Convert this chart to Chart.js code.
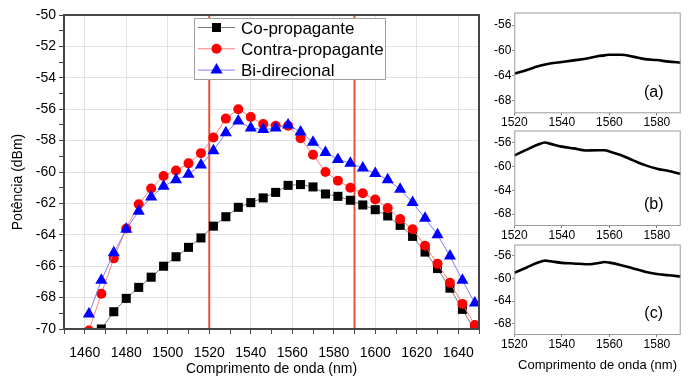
<!DOCTYPE html>
<html>
<head>
<meta charset="utf-8">
<script src="https://cdn.jsdelivr.net/npm/chart.js@4.4.0/dist/chart.umd.min.js"></script>
<style>
  body { margin: 0; background: #fff; width: 695px; height: 376px; overflow: hidden; position: relative; }
  canvas { position: absolute; }
</style>
</head>
<body>
<canvas id="main" width="490" height="376" style="left:0px;top:0px"></canvas>
<canvas id="pa" width="205" height="130" style="left:490px;top:0px"></canvas>
<canvas id="pb" width="205" height="125" style="left:490px;top:118px"></canvas>
<canvas id="pc" width="205" height="144" style="left:490px;top:232px"></canvas>
<script>
// main plot: wavelength (nm) vs power (dBm)
const wavelengths = [1462, 1468, 1474, 1480, 1486, 1492, 1498, 1504, 1510, 1516, 1522, 1528, 1534, 1540, 1546, 1552,
                     1558, 1564, 1570, 1576, 1582, 1588, 1594, 1600, 1606, 1612, 1618, 1624, 1630, 1636, 1642, 1648];
const coPropagante = [-70.3, -70.0, -68.9, -68.05, -67.35, -66.7, -66.0, -65.4, -64.8, -64.2, -63.45, -62.85, -62.25, -61.95, -61.65, -61.3,
                      -60.85, -60.8, -60.95, -61.4, -61.55, -61.8, -62.1, -62.4, -62.8, -63.4, -64.1, -65.1, -66.15, -67.4, -68.75, -70.1];
const contraPropagante = [-70.1, -67.75, -65.5, -63.6, -62.05, -61.05, -60.25, -59.9, -59.45, -58.8, -57.8, -56.6, -56.0, -56.5, -56.95, -57.05,
                          -57.05, -57.85, -58.9, -60.0, -60.55, -61.0, -61.35, -61.75, -62.3, -63.0, -63.65, -64.7, -65.85, -67.05, -68.4, -69.75];
const biDirecional = [-69.05, -66.9, -65.15, -63.65, -62.5, -61.6, -60.9, -60.5, -60.15, -59.55, -58.65, -57.5, -56.75, -57.2, -57.3, -57.2,
                      -57.0, -57.45, -58.1, -58.75, -59.2, -59.45, -59.75, -60.1, -60.5, -61.1, -61.95, -62.95, -64.0, -65.35, -66.9, -68.35];
const seriesNames = ["Co-propagante", "Contra-propagante", "Bi-direcional"];
const cutLines = [1520, 1590];

// small panels (a), (b), (c)
const specWl = [1520, 1525, 1530, 1533, 1535, 1540, 1545, 1550, 1555, 1558, 1560, 1565, 1570, 1575, 1580, 1585, 1590];
const specA = [-63.7, -63.15, -62.55, -62.25, -62.1, -61.85, -61.6, -61.35, -60.95, -60.8, -60.7, -60.7, -61.0, -61.4, -61.55, -61.8, -61.95];
const specB = [-58.2, -57.25, -56.35, -56.0, -56.2, -56.7, -57.0, -57.35, -57.3, -57.3, -57.5, -58.15, -59.0, -59.8, -60.4, -60.8, -61.3];
const specC = [-59.0, -58.1, -57.2, -56.85, -56.95, -57.25, -57.35, -57.5, -57.3, -57.1, -57.2, -57.65, -58.25, -58.8, -59.2, -59.45, -59.65];
const panelTags = ["(a)", "(b)", "(c)"];

const FONT = '"Liberation Sans", Arial, sans-serif';
Chart.defaults.font.family = FONT;
Chart.defaults.color = "#000";

const toPoints = (xs, ys) => xs.map((x, i) => ({ x: x, y: ys[i] }));

// frame + red marker lines + legend + y title
const mainDecor = {
  id: "mainDecor",
  beforeDatasetsDraw(chart) {
    const { ctx, chartArea: a, scales: { x } } = chart;
    ctx.save();
    ctx.strokeStyle = "#e4553b";
    ctx.lineWidth = 2;
    cutLines.forEach(v => {
      const px = x.getPixelForValue(v);
      ctx.beginPath();
      ctx.moveTo(px, a.top);
      ctx.lineTo(px, a.bottom);
      ctx.stroke();
    });
    ctx.restore();
  },
  afterDraw(chart) {
    const { ctx, chartArea: a } = chart;
    ctx.save();
    ctx.strokeStyle = "#454545";
    ctx.lineWidth = 2;
    ctx.strokeRect(a.left, a.top, a.right - a.left, a.bottom - a.top);

    // legend
    const lx = 194.5, ly = 18.5;
    ctx.fillStyle = "#fff";
    ctx.fillRect(lx, ly, 191, 61);
    ctx.strokeStyle = "#a0a0a0";
    ctx.lineWidth = 1;
    ctx.strokeRect(lx, ly, 191, 61);
    chart.data.datasets.forEach((ds, i) => {
      const cy = 27.5 + i * 21.3;
      ctx.strokeStyle = ds.borderColor;
      ctx.lineWidth = 1;
      ctx.beginPath();
      ctx.moveTo(198, cy);
      ctx.lineTo(235, cy);
      ctx.stroke();
      ctx.fillStyle = ds.pointBackgroundColor;
      Chart.helpers.drawPoint(ctx, { pointStyle: ds.pointStyle, radius: ds.pointRadius, rotation: 0, borderWidth: 0 }, 216.5, cy);
      ctx.fillStyle = "#000";
      ctx.font = "17px " + FONT;
      ctx.textAlign = "left";
      ctx.textBaseline = "middle";
      ctx.fillText(ds.label, 241, cy + 1.5);
    });

    // y axis title (sits a bit below the axis centre in the original)
    ctx.translate(18.5, (a.top + a.bottom) / 2 + 10);
    ctx.rotate(-Math.PI / 2);
    ctx.font = "14px " + FONT;
    ctx.textAlign = "center";
    ctx.textBaseline = "middle";
    ctx.fillStyle = "#000";
    ctx.fillText("Potência (dBm)", 0, 0);
    ctx.restore();
  }
};

const mainChart = new Chart(document.getElementById("main"), {
  type: "line",
  data: {
    datasets: [
      {
        label: seriesNames[0], data: toPoints(wavelengths, coPropagante), order: 3,
        borderColor: "#7a7a7a", borderWidth: 1,
        pointStyle: "rect", pointRadius: 6.4, pointHoverRadius: 6.4,
        pointBackgroundColor: "#000", pointBorderWidth: 0
      },
      {
        label: seriesNames[1], data: toPoints(wavelengths, contraPropagante), order: 2,
        borderColor: "#ff7d7d", borderWidth: 1,
        pointStyle: "circle", pointRadius: 5, pointHoverRadius: 5,
        pointBackgroundColor: "#ff0000", pointBorderWidth: 0
      },
      {
        label: seriesNames[2], data: toPoints(wavelengths, biDirecional), order: 1,
        borderColor: "#7d7dff", borderWidth: 1,
        pointStyle: "triangle", pointRadius: 7, pointHoverRadius: 7,
        pointBackgroundColor: "#0000ff", pointBorderWidth: 0
      }
    ]
  },
  options: {
    responsive: false,
    animation: false,
    layout: { padding: { left: 0, top: 15, right: 10, bottom: 0 } },
    plugins: { legend: { display: false }, tooltip: { enabled: false } },
    scales: {
      x: {
        type: "linear", min: 1450, max: 1650,
        ticks: {
          stepSize: 10, autoSkip: false, maxRotation: 0, padding: 11,
          font: { size: 14 }, color: "#000",
          callback: v => (v % 20 === 0 ? String(v) : "")
        },
        grid: {
          color: c => (c.tick && c.tick.value % 20 === 0 ? "#e2e2e2" : "rgba(0,0,0,0)"),
          tickColor: "#454545", tickLength: 5, lineWidth: 1
        },
        border: { display: false },
        title: { display: true, text: "Comprimento de onda (nm)", font: { size: 14, lineHeight: 1 }, color: "#000", padding: { top: 0, bottom: 0 } },
        afterFit: s => { s.height = 47; }
      },
      y: {
        type: "linear", min: -70, max: -50,
        ticks: {
          stepSize: 1, autoSkip: false, padding: 3,
          font: { size: 14 }, color: "#000",
          callback: v => (v % 2 === 0 ? String(v) : "")
        },
        grid: {
          color: c => (c.tick && c.tick.value % 2 === 0 ? "#e2e2e2" : "rgba(0,0,0,0)"),
          tickColor: "#454545", tickLength: 5, lineWidth: 1
        },
        border: { display: false },
        afterFit: s => { s.width = 64; }
      }
    }
  },
  plugins: [mainDecor]
});

// panel frame + tag
const panelDecor = {
  id: "panelDecor",
  afterDraw(chart, args, opts) {
    const { ctx, chartArea: a } = chart;
    ctx.save();
    ctx.strokeStyle = "#9a9a9a";
    ctx.lineWidth = 1;
    ctx.strokeRect(a.left + 0.5, a.top + 0.5, a.right - a.left - 1, a.bottom - a.top - 1);
    ctx.font = "16px " + FONT;
    ctx.fillStyle = "#000";
    ctx.textAlign = "center";
    ctx.textBaseline = "middle";
    ctx.fillText(opts.tag, a.right - 27, a.bottom - 21);
    ctx.restore();
  }
};

function makePanel(id, values, tag, xHeight, withTitle) {
  return new Chart(document.getElementById(id), {
    type: "line",
    data: {
      datasets: [{
        data: toPoints(specWl, values),
        borderColor: "#000", borderWidth: 2.6,
        pointRadius: 0, tension: 0.4, cubicInterpolationMode: "monotone", fill: false
      }]
    },
    options: {
      responsive: false,
      animation: false,
      layout: { padding: { left: 0, top: 12.5, right: 14.3, bottom: 0 } },
      plugins: { legend: { display: false }, tooltip: { enabled: false }, panelDecor: { tag: tag } },
      scales: {
        x: {
          type: "linear", min: 1520, max: 1590,
          ticks: {
            stepSize: 10, autoSkip: false, maxRotation: 0, padding: 0, includeBounds: false,
            font: { size: 12 }, color: "#000",
            callback: v => (v % 20 === 0 ? String(v) : "")
          },
          grid: { drawOnChartArea: false, tickLength: 2, tickColor: c => (c.tick && c.tick.value % 20 === 0 ? "#777" : "rgba(0,0,0,0)") },
          border: { display: false },
          title: { display: withTitle, text: "Comprimento de onda (nm)", font: { size: 13 }, color: "#000", padding: { top: 0, bottom: 3 } },
          afterFit: s => { s.height = xHeight; }
        },
        y: {
          type: "linear", min: -70, max: -54,
          ticks: {
            stepSize: 2, autoSkip: false, padding: 1,
            font: { size: 12 }, color: "#000",
            callback: v => (v % 4 === 0 ? String(v) : "")
          },
          grid: { drawOnChartArea: false, tickLength: 2, tickColor: c => (c.tick && c.tick.value % 4 === 0 ? "#777" : "rgba(0,0,0,0)") },
          border: { display: false },
          afterFit: s => { s.width = 24.3; }
        }
      }
    },
    plugins: [panelDecor]
  });
}

const panelA = makePanel("pa", specA, panelTags[0], 16.7, false);
const panelB = makePanel("pb", specB, panelTags[1], 17, false);
const panelC = makePanel("pc", specC, panelTags[2], 41, true);
</script>
</body>
</html>
